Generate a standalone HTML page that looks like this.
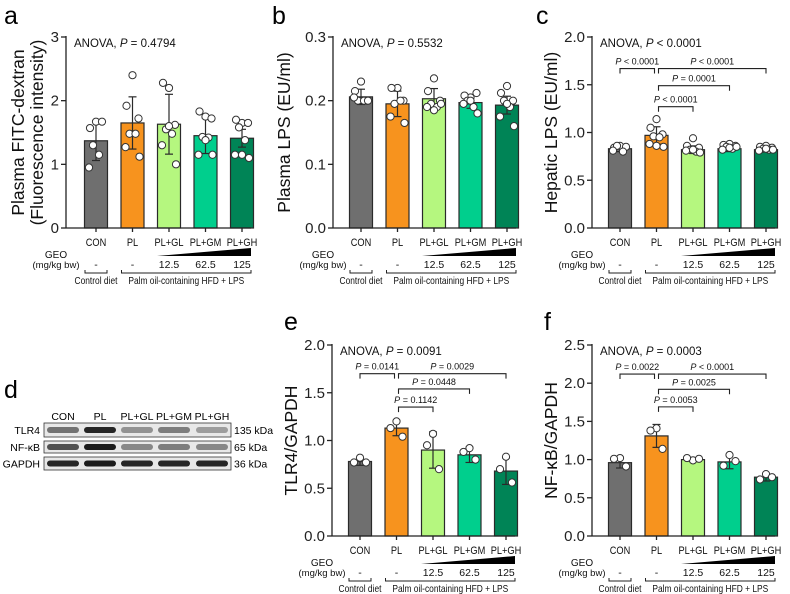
<!DOCTYPE html>
<html><head><meta charset="utf-8">
<style>
html,body{margin:0;padding:0;background:#fff;}
svg{display:block;font-family:"Liberation Sans",Arial,sans-serif;}
</style></head>
<body>
<svg id="fig" width="790" height="594" viewBox="0 0 790 594" xmlns="http://www.w3.org/2000/svg"></svg>
<script>
const categories = ["CON","PL","PL+GL","PL+GM","PL+GH"];
const colors = ["#6f6f6f","#f7931e","#b5f77f","#00cf8d","#008456"];
const doses = ["-","-","12.5","62.5","125"];

// Panel a
const aMeans = [1.37,1.65,1.63,1.45,1.41];
const aSD = [0.31,0.41,0.47,0.28,0.14];
const aPoints = [[1.67,1.57,1.67,1.30,1.15,0.95],[2.40,1.92,1.72,1.48,1.48,1.27,1.12],[2.20,2.28,1.62,1.55,1.48,1.30,1.00,1.60],[1.75,1.83,1.72,1.43,1.42,1.15,1.15,1.38],[1.65,1.70,1.65,1.58,1.38,1.15,1.10,1.15]];
const aTicks = [0,1,2,3];
// Panel b
const bMeans = [0.206,0.195,0.203,0.197,0.193];
const bSD = [0.012,0.020,0.016,0.009,0.014];
const bPoints = [[0.230,0.215,0.200,0.200,0.200,0.205,0.200],[0.220,0.220,0.200,0.195,0.200,0.175,0.165],[0.235,0.215,0.200,0.195,0.190,0.190,0.195,0.185],[0.205,0.208,0.212,0.200,0.190,0.195,0.180,0.200],[0.223,0.212,0.200,0.200,0.190,0.175,0.160,0.195]];
const bTicks = [0,0.1,0.2,0.3];
// Panel c
const cMeans = [0.83,0.97,0.82,0.83,0.82];
const cSD = [0.03,0.09,0.04,0.03,0.02];
const cPoints = [[0.86,0.84,0.85,0.86,0.80,0.81],[1.14,1.05,0.98,0.96,0.95,0.88,0.85,0.86],[0.94,0.86,0.84,0.82,0.80,0.81,0.79,0.82],[0.88,0.87,0.86,0.85,0.83,0.82,0.85,0.84],[0.86,0.85,0.84,0.83,0.82,0.81,0.82,0.83]];
const cTicks = [0,0.5,1.0,1.5,2.0];
const cCompFrom = [0,1,1,1];
const cCompTo = [1,4,3,2];
const cCompLevel = [1.67,1.67,1.49,1.27];
const cCompLabel = ["< 0.0001","< 0.0001","= 0.0001","< 0.0001"];
// Panel e
const eMeans = [0.78,1.13,0.90,0.85,0.68];
const eSD = [0.04,0.08,0.19,0.08,0.14];
const ePoints = [[0.82,0.77,0.77],[1.20,1.13,1.04],[1.07,0.95,0.70],[0.92,0.88,0.80],[0.83,0.70,0.56]];
const eTicks = [0,0.5,1.0,1.5,2.0];
const eCompFrom = [0,1,1,1];
const eCompTo = [1,4,3,2];
const eCompLevel = [1.70,1.70,1.54,1.35];
const eCompLabel = ["= 0.0141","= 0.0029","= 0.0448","= 0.1142"];
// Panel f
const fMeans = [0.96,1.31,1.00,0.97,0.77];
const fSD = [0.07,0.15,0.02,0.09,0.05];
const fPoints = [[1.02,1.01,0.91],[1.41,1.38,1.14],[0.99,1.02,1.01],[1.06,0.92,0.98],[0.81,0.74,0.77]];
const fTicks = [0,0.5,1.0,1.5,2.0,2.5];
const fCompFrom = [0,1,1,1];
const fCompTo = [1,4,3,2];
const fCompLevel = [2.12,2.12,1.92,1.69];
const fCompLabel = ["= 0.0022","< 0.0001","= 0.0025","= 0.0053"];

const NS = "http://www.w3.org/2000/svg";
const svg = document.getElementById("fig");
function mk(tag, attrs, parent, text){
  const e = document.createElementNS(NS, tag);
  for (const k in attrs) e.setAttribute(k, attrs[k]);
  if (text !== undefined) e.textContent = text;
  (parent || svg).appendChild(e);
  return e;
}
const jit = [0,-6,6,-3,3,-7,7,0];

function panel(cfg){
  const g = mk("g", {});
  
  
  const ax = cfg.ax, top = cfg.top, bot = cfg.bot, x0 = cfg.x0, sp = 36.5, bw = 23;
  const ymax = cfg.ticks[cfg.ticks.length-1];
  const Y = v => bot - (v / ymax) * (bot - top);
  const X = i => x0 + i * sp;
  const xend = x0 + 155;
  const lt = mk("text", {x: cfg.lx, y: cfg.ly, "font-size": 25}, g, cfg.letter);
  
  
  cfg.means.forEach((m, i) => {
    const r = mk("rect", {x: X(i)-bw/2, y: Y(m), width: bw, height: bot - Y(m), fill: colors[i], stroke: "#2a2a2a", "stroke-width": 1.2}, g);
    
    
  });
  cfg.means.forEach((m, i) => {
    const s = cfg.sd[i];
    const eb = mk("g", {stroke: "#2a2a2a", "stroke-width": 1.2}, g);
    
    
    mk("line", {x1: X(i), x2: X(i), y1: Y(m-s), y2: Y(m+s)}, eb);
    mk("line", {x1: X(i)-4, x2: X(i)+4, y1: Y(m+s), y2: Y(m+s)}, eb);
    mk("line", {x1: X(i)-4, x2: X(i)+4, y1: Y(m-s), y2: Y(m-s)}, eb);
  });
  cfg.points.forEach((arr, i) => {
    arr.forEach((v, j) => {
      const c = mk("circle", {cx: X(i) + jit[j % jit.length], cy: Y(v), r: 3.6, fill: "#fff", stroke: "#333", "stroke-width": 1}, g);
      
      
    });
  });
  const axg = mk("g", {stroke: "#222", "stroke-width": 1.3, fill: "none"}, g);
  
  
  mk("line", {x1: ax, x2: ax, y1: top-1, y2: bot}, axg);
  mk("line", {x1: ax, x2: xend, y1: bot, y2: bot}, axg);
  cfg.ticks.forEach(t => mk("line", {x1: ax-5, x2: ax, y1: Y(t), y2: Y(t)}, axg));
  categories.forEach((c, i) => mk("line", {x1: X(i), x2: X(i), y1: bot, y2: bot+4}, axg));
  cfg.ticks.forEach(t => {
    const tl = mk("text", {x: ax-7, y: Y(t)+5, "font-size": 15, "text-anchor": "end", fill: "#222"}, g, cfg.fmt(t));
    
    
  });
  const yt = mk("text", {transform: `translate(${cfg.ytx},${(top+bot)/2}) rotate(-90)`, "font-size": 17.5, "text-anchor": "middle", fill: "#111"}, g);
  
  
  cfg.ytitle.forEach((line, k) => mk("tspan", {x: 0, dy: k === 0 ? 0 : 19}, yt, line));
  const an = mk("text", {x: ax+8, y: top+10, "font-size": 11.5, fill: "#111"}, g);
  
  
  mk("tspan", {}, an, "ANOVA, ");
  mk("tspan", {"font-style": "italic"}, an, "P");
  mk("tspan", {}, an, " " + cfg.anova);
  if (cfg.cf) {
    cfg.cf.forEach((f, k) => {
      const t = cfg.ct[k], yy = Y(cfg.cl[k]);
      const xa = X(f) + (f === 1 ? 2 : 0), xb = X(t) - (t === 1 ? 2 : 0);
      const bg = mk("g", {}, g);
      
      
      mk("path", {d: `M${xa},${yy+5} V${yy} H${xb} V${yy+5}`, fill: "none", stroke: "#222", "stroke-width": 1.1}, bg);
      const tx = mk("text", {x: (xa+xb)/2, y: yy-4, "font-size": 9, "text-anchor": "middle", fill: "#111"}, bg);
      mk("tspan", {"font-style": "italic"}, tx, "P");
      mk("tspan", {}, tx, " " + cfg.clab[k]);
    });
  }
  categories.forEach((c, i) => {
    const tg = mk("g", {transform: `translate(${X(i)},${bot+18}) scale(0.84,1)`}, g);
    const t = mk("text", {x: 0, y: 0, "font-size": 11, "text-anchor": "middle", fill: "#111"}, tg, c);
    
    
  });
  const geo = mk("text", {x: ax-10, y: bot+30, "font-size": 10, "text-anchor": "middle", fill: "#111"}, g, "GEO");
  
  
  const mg = mk("text", {x: ax-10, y: bot+40, "font-size": 9.5, "text-anchor": "middle", fill: "#111"}, g, "(mg/kg bw)");
  
  
  doses.forEach((d, i) => {
    const t = mk("text", {x: X(i), y: bot+40, "font-size": 10.5, "text-anchor": "middle", fill: "#111"}, g, d);
    
    
  });
  const tri = mk("polygon", {points: `${X(2)-12},${bot+28} ${xend},${bot+20} ${xend},${bot+28}`, fill: "#000"}, g);
  
  
  const br = mk("g", {stroke: "#222", "stroke-width": 1, fill: "none"}, g);
  
  
  mk("path", {d: `M${X(0)-11},${bot+42} V${bot+45} H${X(0)+11} V${bot+42}`}, br);
  mk("path", {d: `M${X(1)-11},${bot+42} V${bot+45} H${xend} V${bot+42}`}, br);
  const cg = mk("g", {transform: `translate(${X(0)},${bot+56}) scale(0.84,1)`}, g);
  const cd = mk("text", {x: 0, y: 0, "font-size": 10, "text-anchor": "middle", fill: "#111"}, cg, "Control diet");
  
  
  const pg = mk("g", {transform: `translate(${(X(1)-11+xend)/2},${bot+56}) scale(0.84,1)`}, g);
  const pd = mk("text", {x: 0, y: 0, "font-size": 10, "text-anchor": "middle", fill: "#111"}, pg, "Palm oil-containing HFD + LPS");
  
  
}
const f0 = t => String(t), f1 = t => t.toFixed(1);
panel({letter:"a", lx:4, ly:24, ax:66, x0:96, top:37, bot:228, means:aMeans, sd:aSD, points:aPoints, ticks:aTicks, fmt:f0, ytx:24, ytitle:["Plasma FITC-dextran","(Fluorescence intensity)"], anova:"= 0.4794"});
panel({letter:"b", lx:272, ly:24, ax:333, x0:361, top:37, bot:228, means:bMeans, sd:bSD, points:bPoints, ticks:bTicks, fmt:f1, ytx:290, ytitle:["Plasma LPS (EU/ml)"], anova:"= 0.5532"});
panel({letter:"c", lx:536, ly:24, ax:592, x0:620, top:37, bot:228, means:cMeans, sd:cSD, points:cPoints, ticks:cTicks, fmt:f1, ytx:557, ytitle:["Hepatic LPS (EU/ml)"], anova:"< 0.0001", cf:cCompFrom, ct:cCompTo, cl:cCompLevel, clab:cCompLabel});
panel({letter:"e", lx:284, ly:330, ax:332, x0:360, top:345, bot:536, means:eMeans, sd:eSD, points:ePoints, ticks:eTicks, fmt:f1, ytx:297, ytitle:["TLR4/GAPDH"], anova:"= 0.0091", cf:eCompFrom, ct:eCompTo, cl:eCompLevel, clab:eCompLabel});
panel({letter:"f", lx:544, ly:330, ax:592, x0:620, top:345, bot:536, means:fMeans, sd:fSD, points:fPoints, ticks:fTicks, fmt:f1, ytx:557, ytitle:["NF-κB/GAPDH"], anova:"= 0.0003", cf:fCompFrom, ct:fCompTo, cl:fCompLevel, clab:fCompLabel});

// Panel d western blot
const blotRows = ["TLR4","NF-κB","GAPDH"];
const blotKda = ["135 kDa","65 kDa","36 kDa"];
const blotIntensity = [[0.55,0.9,0.4,0.5,0.35],[0.7,0.95,0.45,0.5,0.45],[0.9,0.95,0.9,0.9,0.9]];
const d = mk("g", {});


mk("text", {x: 4, y: 398, "font-size": 25}, d, "d");
const laneX = [63,100,137,174,212];
const rowTop = [423,441,457], rowH = [14,12,13];
categories.forEach((c, i) => mk("text", {x: laneX[i], y: 420, "font-size": 10.5, "text-anchor": "middle"}, d, c));
blotRows.forEach((r, k) => {
  mk("text", {x: 40, y: rowTop[k]+rowH[k]/2+4, "font-size": 10.5, "text-anchor": "end"}, d, r);
  mk("text", {x: 234, y: rowTop[k]+rowH[k]/2+4, "font-size": 10.5}, d, blotKda[k]);
  mk("rect", {x: 44, y: rowTop[k], width: 187, height: rowH[k], fill: "#e8e8e8", stroke: "#333", "stroke-width": 0.8}, d);
  blotIntensity[k].forEach((v, i) => {
    const b = mk("rect", {x: laneX[i]-16, y: rowTop[k]+rowH[k]/2-3, width: 32, height: 6, rx: 3, fill: "#111", opacity: v}, d);
    
    
  });
});
</script>
</body></html>
